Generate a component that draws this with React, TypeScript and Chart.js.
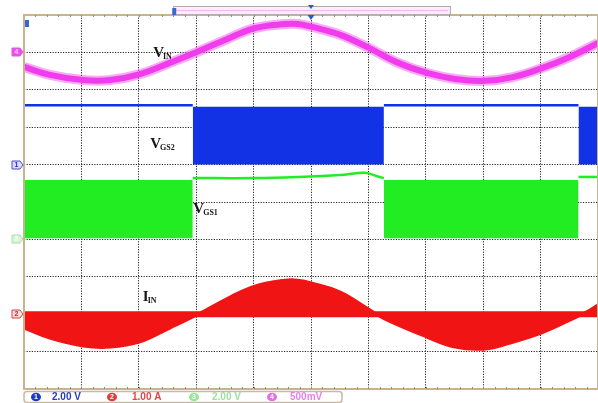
import React, { useEffect, useRef } from 'react';
import { Chart, registerables } from 'chart.js';

Chart.register(...registerables);

// Horizontal axis: time in screen divisions (0..10); vertical: divisions (0 bottom .. 10 top)
const VIN_T = [0, 0.45, 1.03, 1.5, 2.02, 2.54, 3.01, 3.5, 4.02, 4.55, 4.77, 5.02, 5.51, 6.01, 6.52, 7.02, 7.51, 8.03, 8.52, 9.02, 9.51, 10];
const VIN_V = [8.61, 8.4, 8.26, 8.26, 8.42, 8.72, 9.01, 9.33, 9.65, 9.76, 9.76, 9.68, 9.47, 9.12, 8.72, 8.45, 8.29, 8.24, 8.34, 8.58, 8.88, 9.25];

const IIN_T = [0, 0.45, 1.03, 1.5, 2.02, 2.54, 3.01, 3.59, 4.02, 4.55, 4.77, 5.02, 5.51, 6.01, 6.29, 7.02, 7.51, 8.03, 8.47, 9.02, 9.51, 9.86, 10];
const IIN_V = [1.63, 1.36, 1.15, 1.12, 1.26, 1.63, 1.98, 2.46, 2.75, 2.91, 2.91, 2.83, 2.59, 2.13, 1.87, 1.39, 1.12, 1.07, 1.23, 1.5, 1.84, 2.11, 2.25];
const IIN_ZERO = 2;

const SWITCH_EDGES = [0, 2.94, 6.27, 9.66, 10];
const VGS2_PWM = [false, true, false, true];
const VGS2_HIGH = 7.59;
const VGS2_PWM_TOP = 7.55;
const VGS2_ZERO = 6;

const VGS1_PWM = [true, false, true, false];
const VGS1_PWM_TOP = 5.59;
const VGS1_PWM_LOW = 4.03;
const VGS1_ZERO = 4;
const VGS1_HIGH_T = [[2.94, 4.0, 4.77, 5.5, 5.94, 6.17, 6.27], [9.66, 10]];
const VGS1_HIGH_V = [[5.64, 5.64, 5.67, 5.72, 5.78, 5.68, 5.64], [5.67, 5.67]];

const VIN_ZERO = 9;

const CH_NAMES = ['1', '2', '3', '4'];
const CH_SCALES = ['2.00 V', '1.00 A', '2.00 V', '500mV'];
const CH_ZERO = [VGS2_ZERO, IIN_ZERO, VGS1_ZERO, VIN_ZERO];

const LABEL_MAIN = ['V', 'V', 'V', 'I'];
const LABEL_SUB = ['IN', 'GS2', 'GS1', 'IN'];
const LABEL_T = [2.25, 2.2, 2.95, 2.07];
const LABEL_V = [8.88, 6.44, 4.71, 2.36];

const MAG = '#f03cec';
const MAG_HALO = 'rgba(240,70,236,0.45)';
const BLUE = '#1232e6';
const GREEN = '#22ec22';
const RED = '#f01414';
const BORDER = '#c8b48c';

const pts = (t: number[], v: number[]) => t.map((x, i) => ({ x, y: v[i] }));

function buildDatasets() {
  const ds: any[] = [];
  const base = { pointRadius: 0, pointHoverRadius: 0, borderCapStyle: 'butt' };
  ds.push({ ...base, label: 'VIN', data: pts(VIN_T, VIN_V), borderColor: MAG, borderWidth: 6, tension: 0.4, fill: false });
  ds.push({ ...base, label: 'VIN halo', data: pts(VIN_T, VIN_V), borderColor: MAG_HALO, borderWidth: 10, tension: 0.4, fill: false });
  ds.push({ ...base, label: 'IIN', data: pts(IIN_T, IIN_V), borderColor: RED, backgroundColor: RED, borderWidth: 3, tension: 0.4, fill: { value: IIN_ZERO } });
  ds.push({ ...base, label: 'IIN0', data: [{ x: 0, y: IIN_ZERO }, { x: 10, y: IIN_ZERO }], borderColor: RED, borderWidth: 6, fill: false });
  for (let i = 0; i < VGS2_PWM.length; i++) {
    const a = SWITCH_EDGES[i], b = SWITCH_EDGES[i + 1];
    if (VGS2_PWM[i]) {
      ds.push({ ...base, label: 'VGS2', data: [{ x: a, y: VGS2_PWM_TOP }, { x: b, y: VGS2_PWM_TOP }], borderWidth: 0, borderColor: BLUE, backgroundColor: BLUE, fill: { value: VGS2_ZERO } });
    } else {
      ds.push({ ...base, label: 'VGS2', data: [{ x: a, y: VGS2_HIGH }, { x: b, y: VGS2_HIGH }], borderWidth: 2.5, borderColor: BLUE, fill: false });
    }
  }
  let k = 0;
  for (let i = 0; i < VGS1_PWM.length; i++) {
    const a = SWITCH_EDGES[i], b = SWITCH_EDGES[i + 1];
    if (VGS1_PWM[i]) {
      ds.push({ ...base, label: 'VGS1', data: [{ x: a, y: VGS1_PWM_TOP }, { x: b, y: VGS1_PWM_TOP }], borderWidth: 0, borderColor: GREEN, backgroundColor: GREEN, fill: { value: VGS1_PWM_LOW } });
    } else {
      ds.push({ ...base, label: 'VGS1', data: pts(VGS1_HIGH_T[k], VGS1_HIGH_V[k]), borderWidth: 2.5, borderColor: GREEN, tension: 0.3, fill: false });
      k++;
    }
  }
  return ds;
}

const overlay = {
  id: 'scopeOverlay',
  afterDraw(chart: any) {
    const { ctx, chartArea: a, scales } = chart;
    const x = scales.x, y = scales.y;
    ctx.save();
    // frame
    ctx.strokeStyle = BORDER;
    ctx.lineWidth = 2;
    ctx.strokeRect(a.left, a.top, a.right - a.left, a.bottom - a.top);
    // minor ticks on frame
    ctx.strokeStyle = '#9a8a70';
    ctx.lineWidth = 1;
    for (let i = 1; i < 50; i++) {
      const px = Math.round(x.getPixelForValue(i / 5)) + 0.5;
      ctx.beginPath(); ctx.moveTo(px, a.top); ctx.lineTo(px, a.top + 2); ctx.stroke();
      ctx.beginPath(); ctx.moveTo(px, a.bottom); ctx.lineTo(px, a.bottom - 2); ctx.stroke();
    }
    // labels
    ctx.fillStyle = '#151515';
    ctx.textBaseline = 'alphabetic';
    ctx.textAlign = 'left';
    for (let i = 0; i < LABEL_MAIN.length; i++) {
      const px = x.getPixelForValue(LABEL_T[i]);
      const py = y.getPixelForValue(LABEL_V[i]);
      ctx.font = 'bold 15px "Liberation Serif"';
      ctx.fillText(LABEL_MAIN[i], px, py);
      const w = ctx.measureText(LABEL_MAIN[i]).width;
      ctx.font = 'bold 8px "Liberation Serif"';
      ctx.fillText(LABEL_SUB[i], px + w - 1, py + 2);
    }
    // channel markers on the left
    const mk = [
      { fill: '#dcdcf8', stroke: '#4a4ad0', text: '#2a2ab0' },
      { fill: '#fadcdc', stroke: '#e04040', text: '#d02020' },
      { fill: '#d4f4d4', stroke: '#a8e0a8', text: '#ffffff' },
      { fill: '#ec50ec', stroke: '#ec50ec', text: '#fbd0fb' },
    ];
    for (let i = 0; i < CH_NAMES.length; i++) {
      const cy = Math.round(y.getPixelForValue(CH_ZERO[i]));
      const r = a.left - 1, l = a.left - 12;
      ctx.beginPath();
      ctx.moveTo(l, cy - 4); ctx.lineTo(r - 3, cy - 4); ctx.lineTo(r, cy); ctx.lineTo(r - 3, cy + 4); ctx.lineTo(l, cy + 4); ctx.closePath();
      ctx.fillStyle = mk[i].fill; ctx.fill();
      ctx.strokeStyle = mk[i].stroke; ctx.lineWidth = 1; ctx.stroke();
      ctx.fillStyle = mk[i].text;
      ctx.font = 'bold 7px "Liberation Sans"';
      ctx.textAlign = 'center'; ctx.textBaseline = 'middle';
      ctx.fillText(CH_NAMES[i], l + 4.5, cy + 0.5);
    }
    // small trigger-level marker top-left
    ctx.fillStyle = '#3a66d0';
    ctx.fillRect(a.left + 1, a.top + 5, 4, 7);
    // top record bar
    const bl = x.getPixelForValue(2.6), br = x.getPixelForValue(7.42);
    ctx.fillStyle = '#f9eef9';
    ctx.fillRect(bl, 6, br - bl, 8);
    ctx.strokeStyle = '#b8a8a8'; ctx.lineWidth = 1;
    ctx.strokeRect(bl + 0.5, 6.5, br - bl, 8);
    ctx.strokeStyle = '#f0b8f0';
    ctx.beginPath(); ctx.moveTo(bl + 2, 10.5); ctx.lineTo(br - 2, 10.5); ctx.stroke();
    ctx.fillStyle = '#3a66d0';
    ctx.fillRect(bl - 1, 8, 4, 7);
    const tx = x.getPixelForValue(5);
    ctx.fillStyle = '#2a5ad0';
    ctx.beginPath(); ctx.moveTo(tx - 3, 5); ctx.lineTo(tx + 3, 5); ctx.lineTo(tx, 9); ctx.closePath(); ctx.fill();
    ctx.beginPath(); ctx.moveTo(tx - 3.5, a.top); ctx.lineTo(tx + 3.5, a.top); ctx.lineTo(tx, a.top + 5); ctx.closePath(); ctx.fill();
    // bottom channel legend
    const ly = a.bottom + 8;
    ctx.strokeStyle = '#c8b8a0'; ctx.fillStyle = '#ffffff'; ctx.lineWidth = 1.5;
    ctx.beginPath();
    if (ctx.roundRect) ctx.roundRect(a.left, a.bottom + 2.5, 318, 11, 3); else ctx.rect(a.left, a.bottom + 2.5, 318, 11);
    ctx.fill(); ctx.stroke();
    const cx = [36, 112, 194, 272];
    const tx2 = [52, 132, 212, 290];
    const ec = ['#1a3cc8', '#e43a3a', '#94e894', '#e46ee8'];
    const tc = ['#2a3cb4', '#e24444', '#9ee09e', '#e482ea'];
    for (let i = 0; i < 4; i++) {
      ctx.fillStyle = ec[i];
      ctx.beginPath(); ctx.ellipse(cx[i], ly, 5, 4.3, 0, 0, Math.PI * 2); ctx.fill();
      ctx.fillStyle = '#ffffff';
      ctx.font = 'bold 7px "Liberation Sans"';
      ctx.textAlign = 'center'; ctx.textBaseline = 'middle';
      ctx.fillText(CH_NAMES[i], cx[i], ly + 0.5);
      ctx.fillStyle = tc[i];
      ctx.font = 'bold 10px "Liberation Sans"';
      ctx.textAlign = 'left';
      ctx.fillText(CH_SCALES[i], tx2[i], ly + 0.5);
    }
    ctx.restore();
  },
};

export default function App() {
  const ref = useRef<HTMLCanvasElement>(null);
  useEffect(() => {
    document.body.style.margin = '0';
    const canvas = ref.current;
    if (!canvas) return;
    const grid = { color: '#262626', lineWidth: 1, drawTicks: false };
    const border = { display: false, dash: [1.2, 1.4] };
    const chart = new Chart(canvas, {
      type: 'line',
      data: { datasets: buildDatasets() },
      options: {
        responsive: false,
        animation: false,
        devicePixelRatio: 1,
        layout: { padding: { left: 24, top: 15, right: 0, bottom: 14 } },
        plugins: { legend: { display: false }, tooltip: { enabled: false } },
        events: [],
        scales: {
          x: { type: 'linear', min: 0, max: 10, z: 1, ticks: { display: false, stepSize: 1 }, grid, border },
          y: { type: 'linear', min: 0, max: 10, z: 1, ticks: { display: false, stepSize: 1 }, grid, border },
        },
      } as any,
      plugins: [overlay],
    });
    return () => chart.destroy();
  }, []);
  return (
    <div style={{ width: 598, height: 403, background: '#ffffff' }}>
      <canvas ref={ref} width={598} height={403} style={{ display: 'block' }} />
    </div>
  );
}
